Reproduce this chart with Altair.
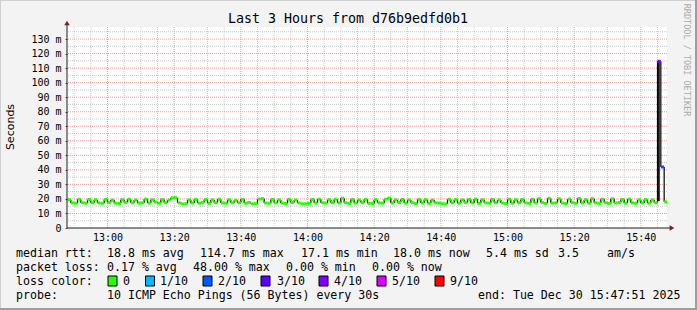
import altair as alt
import pandas as pd

TITLE = "Last 3 Hours from d76b9edfd0b1"
FIRST_SAMPLE_MIN = 768          # 12:48, one sample per minute
X_DOMAIN = [767.85, 947.85]     # 12:47:51 .. 15:47:51 (minutes since midnight)
Y_DOMAIN = [0, 138.3]           # milliseconds

median_ms = [
    19.5, 17.2, 17.0, 19.8, 17.4, 17.1, 19.6, 17.3, 19.4, 17.2,
    17.0, 19.7, 17.5, 19.2, 17.1, 16.9, 19.5, 17.6, 19.8, 17.3,
    19.3, 17.1, 17.4, 19.9, 17.2, 19.5, 17.8, 17.0, 19.6, 17.4,
    19.2, 20.8, 20.9, 17.3, 16.6, 16.7, 19.4, 17.2, 19.7, 17.1,
    17.5, 19.6, 17.0, 19.3, 17.4, 19.8, 17.2, 17.0, 19.5, 17.3,
    19.1, 17.4, 19.7, 17.1, 17.6, 16.6, 16.8, 19.9, 20.2, 17.2,
    17.0, 19.6, 17.3, 19.4, 17.1, 16.9, 19.7, 17.5, 19.3, 17.2,
    16.6, 16.7, 17.0, 19.6, 17.2, 19.9, 17.4, 17.1, 19.5, 17.3,
    19.8, 17.2, 20.5, 17.4, 16.9, 19.6, 17.1, 19.3, 17.5, 19.7,
    17.0, 16.8, 19.5, 17.3, 17.1, 19.8, 20.6, 17.2, 19.4, 17.5,
    19.6, 17.1, 19.3, 17.4, 16.8, 19.7, 17.2, 19.5, 17.0, 19.2,
    17.4, 17.1, 16.7, 16.6, 19.8, 17.3, 19.6, 17.1, 19.4, 17.5,
    19.7, 17.2, 19.9, 17.0, 19.5, 17.3, 17.1, 19.6, 17.4, 19.3,
    17.2, 16.8, 19.8, 17.1, 19.5, 17.4, 19.6, 17.3, 17.0, 19.7,
    17.2, 20.2, 17.5, 16.9, 20.4, 17.1, 17.3, 20.1, 17.2, 16.8,
    19.9, 17.4, 17.0, 20.3, 17.2, 19.5, 17.1, 20.2, 17.3, 17.0,
    19.8, 17.4, 16.9, 20.1, 17.2, 17.5, 19.6, 17.1, 19.9, 17.3,
    17.0, 19.4, 17.2, 19.6, 17.1, 19.3, 17.4, 114.7, 42.0, 18.0,
]
sample_loss = ["0"] * 177 + ["4/10", "2/10", "0"]

# smoke (ping spread) visible around the spike
smoke_t0 = [945.0]
smoke_t1 = [945.7]
smoke_lo = [18.5]
smoke_hi = [114.7]

loss_labels = ["0", "1/10", "2/10", "3/10", "4/10", "5/10", "9/10"]
loss_colors = ["#26ff00", "#00b8ff", "#0059ff", "#5e00ff", "#7e00ff", "#dd00ff", "#ff0000"]

major_x = [780, 800, 820, 840, 860, 880, 900, 920, 940]
minor_x = [m for m in range(770, 948, 5) if m % 20 != 0]
major_y = [10, 20, 30, 40, 50, 60, 70, 80, 90, 100, 110, 120, 130]
minor_y = [5, 15, 25, 35, 45, 55, 65, 75, 85, 95, 105, 115, 125, 135]

legend_rows = [
    # (text, abs x, abs y)
    ("median rtt:", 16, 254), ("18.8 ms avg", 107, 254), ("114.7 ms max", 200, 254),
    ("17.1 ms min", 301, 254), ("18.0 ms now", 393, 254), ("5.4 ms sd", 486, 254),
    ("3.5", 558, 254), ("am/s", 607, 254),
    ("packet loss:", 16, 268), ("0.17 % avg", 107, 268), ("48.00 % max", 193, 268),
    ("0.00 % min", 286, 268), ("0.00 % now", 372, 268),
    ("loss color:", 16, 282),
    ("0", 123, 282), ("1/10", 160, 282), ("2/10", 218, 282), ("3/10", 277, 282),
    ("4/10", 334, 282), ("5/10", 392, 282), ("9/10", 450, 282),
    ("probe:", 16, 296), ("10 ICMP Echo Pings (56 Bytes) every 30s", 107, 296),
    ("end: Tue Dec 30 15:47:51 2025", 478, 296),
]
swatch_centers = [112.5, 150, 207.5, 265.5, 323.5, 381.5, 439.5]

OX, OY = 67, 27     # plot origin in page pixels
W, H = 600, 201
MONO = "DejaVu Sans Mono"

xs = alt.Scale(domain=X_DOMAIN, nice=False, zero=False)
ys = alt.Scale(domain=Y_DOMAIN, nice=False, zero=False)
xaxis = alt.Axis(values=major_x, title=None, grid=False, domain=False, ticks=False,
                 labelExpr="floor(datum.value/60) + ':' + (datum.value % 60 < 10 ? '0' : '') + (datum.value % 60)",
                 labelFont=MONO, labelFontSize=10, labelColor="#000", labelPadding=4)
yaxis = alt.Axis(values=[0] + major_y, title=None, grid=False, domain=False, ticks=True,
                 tickSize=2, tickColor="#555",
                 labelExpr="datum.value == 0 ? '0' : datum.value + ' m'",
                 labelFont=MONO, labelFontSize=10, labelColor="#000", labelPadding=4)

def X(f):
    return alt.X(f, type="quantitative", scale=xs, axis=xaxis)

def Y(f):
    return alt.Y(f, type="quantitative", scale=ys, axis=yaxis)

seg = pd.DataFrame({
    "t0": [FIRST_SAMPLE_MIN + i for i in range(len(median_ms))],
    "t1": [FIRST_SAMPLE_MIN + i + 1 for i in range(len(median_ms))],
    "v": median_ms,
    "loss": sample_loss,
})
vert = pd.DataFrame({
    "t": [FIRST_SAMPLE_MIN + i for i in range(1, len(median_ms))],
    "a": median_ms[:-1],
    "b": median_ms[1:],
})
smoke = pd.DataFrame({"t0": smoke_t0, "t1": smoke_t1, "lo": smoke_lo, "hi": smoke_hi})

grid_minor_v = alt.Chart(pd.DataFrame({"x": minor_x})).mark_rule(
    color="#c8c8c8", strokeDash=[1, 1], strokeWidth=1).encode(x=X("x"))
grid_minor_h = alt.Chart(pd.DataFrame({"y": minor_y})).mark_rule(
    color="#c8c8c8", strokeDash=[1, 1], strokeWidth=1).encode(y=Y("y"))
grid_major_v = alt.Chart(pd.DataFrame({"x": major_x})).mark_rule(
    color="#ee9a9a", strokeDash=[1, 1], strokeWidth=1).encode(x=X("x"))
grid_major_h = alt.Chart(pd.DataFrame({"y": major_y})).mark_rule(
    color="#ee9a9a", strokeDash=[1, 1], strokeWidth=1).encode(y=Y("y"))

smoke_layer = alt.Chart(smoke).mark_rect(color="#1a1a1a").encode(
    x=X("t0"), x2="t1", y=Y("lo"), y2="hi")
vert_layer = alt.Chart(vert).mark_rule(color="#000", strokeWidth=1.2, clip=True).encode(
    x=X("t"), y=Y("a"), y2="b")
median_layer = alt.Chart(seg).mark_rule(strokeWidth=3, clip=True).encode(
    x=X("t0"), x2="t1", y=Y("v"),
    color=alt.Color("loss:N", scale=alt.Scale(domain=loss_labels, range=loss_colors), legend=None))

# axis lines and arrows
x_line = alt.Chart().mark_rule(color="#1f1f1f", strokeWidth=1).encode(
    x=alt.value(0), x2=alt.value(W + 4), y=alt.value(H))
y_line = alt.Chart().mark_rule(color="#1f1f1f", strokeWidth=1).encode(
    x=alt.value(0), y=alt.value(H), y2=alt.value(-4))
x_arrow = alt.Chart().mark_point(shape="triangle-right", filled=True, size=30, color="#7f1f1f", opacity=1).encode(
    x=alt.value(W + 5), y=alt.value(H))
y_arrow = alt.Chart().mark_point(shape="triangle-up", filled=True, size=30, color="#7f1f1f", opacity=1).encode(
    x=alt.value(0), y=alt.value(-4))

# texts
title = alt.Chart().mark_text(text=TITLE, font=MONO, fontSize=13.3, color="#000",
                              align="center", baseline="middle").encode(
    x=alt.value(348 - OX), y=alt.value(19 - OY))
ytitle = alt.Chart().mark_text(text="Seconds", font="DejaVu Sans", fontSize=11, color="#000",
                               angle=270, align="center", baseline="middle").encode(
    x=alt.value(11 - OX), y=alt.value(127 - OY))
credit = alt.Chart().mark_text(text="RRDTOOL / TOBI OETIKER", font=MONO, fontSize=8.5, color="#ababab",
                               angle=90, align="center", baseline="middle").encode(
    x=alt.value(687 - OX), y=alt.value(60 - OY))

leg_df = pd.DataFrame({
    "text": [r[0] for r in legend_rows],
    "px": [r[1] - OX for r in legend_rows],
    "py": [r[2] - OY for r in legend_rows],
})
legend_text = alt.Chart(leg_df).mark_text(font=MONO, fontSize=11.6, color="#000",
                                          align="left", baseline="middle").encode(
    x=alt.X("px:Q", scale=None, axis=None), y=alt.Y("py:Q", scale=None, axis=None), text="text:N")

sw_df = pd.DataFrame({
    "x0": [c - 4.5 - OX for c in swatch_centers],
    "x1": [c + 4.5 - OX for c in swatch_centers],
    "y0": [276 - OY] * len(swatch_centers),
    "y1": [286 - OY] * len(swatch_centers),
    "loss": loss_labels,
})
swatches = alt.Chart(sw_df).mark_rect(stroke="#000", strokeWidth=1).encode(
    x=alt.X("x0:Q", scale=None, axis=None), x2="x1", y=alt.Y("y0:Q", scale=None, axis=None), y2="y1",
    color=alt.Color("loss:N", scale=alt.Scale(domain=loss_labels, range=loss_colors), legend=None))

# frame shading
shade_top = alt.Chart().mark_rect(color="#cfcfcf").encode(
    x=alt.value(-OX), x2=alt.value(697 - OX), y=alt.value(-OY), y2=alt.value(-OY + 1))
shade_left = alt.Chart().mark_rect(color="#cfcfcf").encode(
    x=alt.value(-OX), x2=alt.value(-OX + 1), y=alt.value(-OY), y2=alt.value(310 - OY))
shade_bottom = alt.Chart().mark_rect(color="#9e9e9e").encode(
    x=alt.value(-OX), x2=alt.value(697 - OX), y=alt.value(308 - OY), y2=alt.value(310 - OY))
shade_right = alt.Chart().mark_rect(color="#9e9e9e").encode(
    x=alt.value(695 - OX), x2=alt.value(697 - OX), y=alt.value(-OY), y2=alt.value(310 - OY))

chart = alt.layer(
    shade_top, shade_left, shade_bottom, shade_right,
    grid_minor_v, grid_minor_h, grid_major_v, grid_major_h,
    smoke_layer, vert_layer, median_layer,
    x_line, y_line, x_arrow, y_arrow,
    title, ytitle, credit, legend_text, swatches,
).properties(
    width=W, height=H,
    background="#f3f3f3",
    autosize=alt.AutoSizeParams(type="none"),
    padding={"left": OX, "top": OY, "right": 697 - OX - W, "bottom": 310 - OY - H},
).configure_view(stroke=None, fill="white")

chart.save("out.html", embed_options={"renderer": "svg", "actions": False})
